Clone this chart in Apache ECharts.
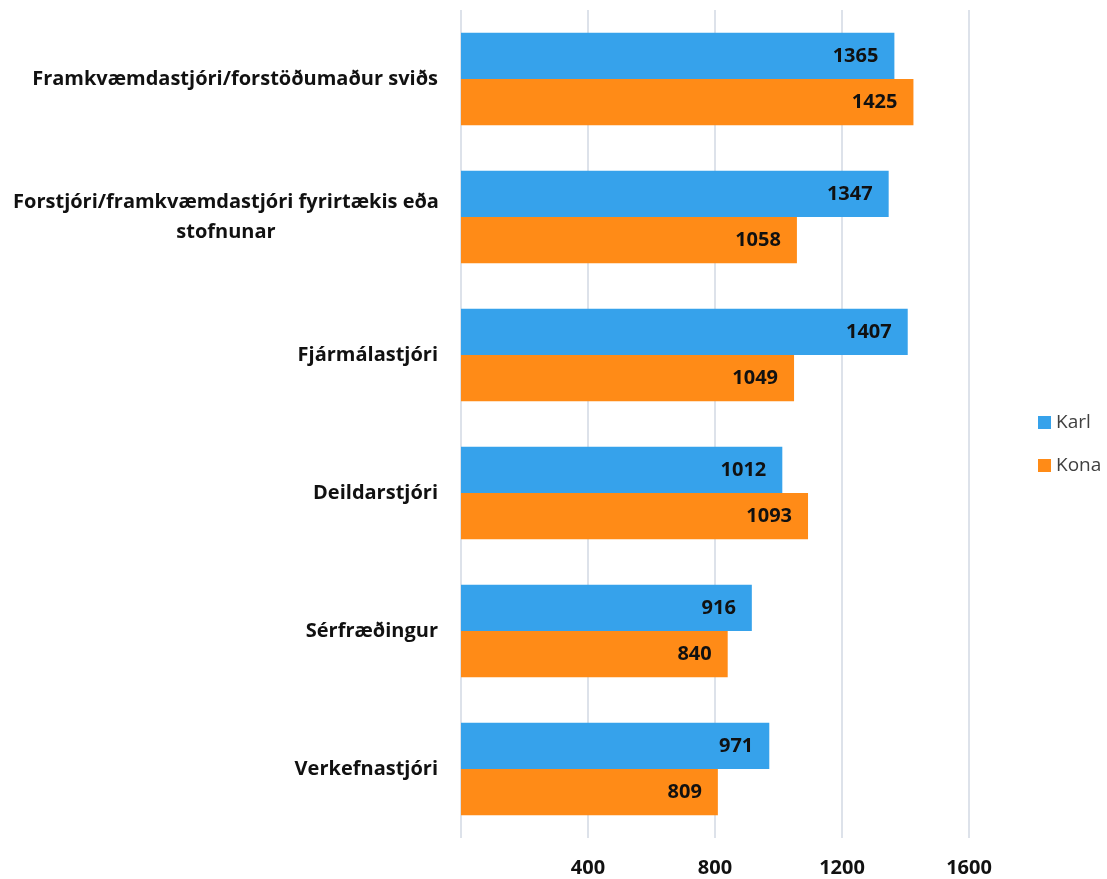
<!DOCTYPE html>
<html>
<head>
<meta charset="utf-8">
<script src="https://cdn.jsdelivr.net/npm/echarts@6/dist/echarts.min.js"></script>
<style>html,body{margin:0;padding:0;background:#fff}#c{width:1107px;height:879px}</style>
</head>
<body>
<div id="c"></div>
<script>
const categories = [
  'Framkvæmdastjóri/forstöðumaður sviðs',
  'Forstjóri/framkvæmdastjóri fyrirtækis eða\nstofnunar',
  'Fjármálastjóri',
  'Deildarstjóri',
  'Sérfræðingur',
  'Verkefnastjóri'
];
const karl = [1365, 1347, 1407, 1012, 916, 971];
const kona = [1425, 1058, 1049, 1093, 840, 809];
const tickLabels = ['', '400', '800', '1200', '1600'];

const chart = echarts.init(document.getElementById('c'));
const font = '"Open Sans"';
chart.setOption({
  animation: false,
  backgroundColor: '#fff',
  textStyle: { fontFamily: font },
  grid: { left: 461, right: 138, top: 10, bottom: 41 },
  legend: {
    orient: 'vertical',
    left: 1033,
    top: 408,
    itemWidth: 13,
    itemHeight: 13,
    itemGap: 24,
    icon: 'rect',
    textStyle: { fontSize: 19, color: '#404040', fontFamily: font },
    data: ['Karl', 'Kona']
  },
  xAxis: {
    type: 'value',
    min: 0,
    max: 1600,
    interval: 400,
    axisLine: { show: false },
    axisTick: { show: false },
    splitLine: { lineStyle: { color: '#dde2ea', width: 2 } },
    axisLabel: {
      margin: 20,
      fontSize: 20,
      fontWeight: 'bold',
      color: '#111',
      fontFamily: font,
      formatter: function (v) { return tickLabels[Math.round(v / 400)]; }
    }
  },
  yAxis: {
    type: 'category',
    inverse: true,
    data: categories,
    axisLine: { show: false },
    axisTick: { show: false },
    axisLabel: {
      margin: 23,
      fontSize: 20,
      fontWeight: 'bold',
      color: '#111',
      fontFamily: font,
      lineHeight: 30,
      formatter: function (v) {
        if (v.indexOf('\n') >= 0) {
          return v.split('\n').map(function (s) { return '{c|' + s + '}'; }).join('\n');
        }
        return v;
      },
      rich: {
        c: { width: 424, align: 'center', fontSize: 20, fontWeight: 'bold', color: '#111', lineHeight: 30, fontFamily: font }
      }
    }
  },
  series: [
    {
      name: 'Karl', type: 'bar', data: karl, barGap: '0%', barCategoryGap: '33%',
      itemStyle: { color: '#36A2EB' },
      label: { show: true, position: 'insideRight', distance: 16, fontSize: 20, fontWeight: 'bold', color: '#111', fontFamily: font }
    },
    {
      name: 'Kona', type: 'bar', data: kona, barGap: '0%', barCategoryGap: '33%',
      itemStyle: { color: '#FF8B17' },
      label: { show: true, position: 'insideRight', distance: 16, fontSize: 20, fontWeight: 'bold', color: '#111', fontFamily: font }
    }
  ]
});
</script>
</body>
</html>
